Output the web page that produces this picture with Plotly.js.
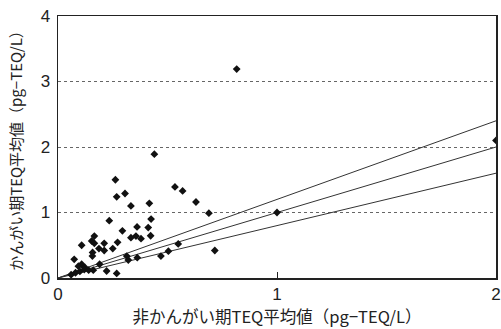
<!DOCTYPE html>
<html><head><meta charset="utf-8">
<script src="https://cdn.plot.ly/plotly-3.0.1.min.js"></script>
<style>html,body{margin:0;padding:0;background:#fff}#c{width:501px;height:329px}</style>
</head><body><div id="c"></div>
<script>
const xVals = [0.44,0.262,0.534,0.569,0.268,0.306,0.333,0.417,0.630,0.689,0.234,0.425,0.294,0.361,0.412,0.166,0.154,0.166,0.108,0.211,0.272,0.356,0.333,0.379,0.423,0.187,0.211,0.250,0.158,0.157,0.549,0.074,0.108,0.123,0.190,0.314,0.321,0.362,0.470,0.504,0.716,0.161,0.222,0.268,0.093,0.816,1.0,2.0,0.06,0.08,0.10,0.12,0.14];
const yVals = [1.89,1.50,1.39,1.33,1.24,1.29,1.10,1.14,1.16,0.99,0.875,0.90,0.72,0.78,0.77,0.64,0.565,0.53,0.50,0.53,0.545,0.64,0.615,0.60,0.645,0.45,0.42,0.45,0.39,0.335,0.52,0.285,0.21,0.16,0.21,0.335,0.275,0.31,0.335,0.41,0.42,0.12,0.107,0.07,0.18,3.19,1.0,2.1,0.05,0.08,0.10,0.13,0.12];
const slopes = [1.2, 1.0, 0.8];
const xRange = [0, 2];
const yRange = [0, 4];
const xTicks = [0, 1, 2];
const yTicks = [0, 1, 2, 3, 4];
const xTitle = '非かんがい期TEQ平均値（pg−TEQ/L）';
const yTitle = 'かんがい期TEQ平均値（pg−TEQ/L）';

const traces = slopes.map(s => ({
  x: [xRange[0], xRange[1]], y: [s*xRange[0], s*xRange[1]],
  mode: 'lines', line: {color: '#333', width: 1}, hoverinfo: 'skip', showlegend: false
}));
traces.push({x: xVals, y: yVals, mode: 'markers', type: 'scatter',
  marker: {symbol: 'diamond', size: 6, color: '#111'}, showlegend: false, cliponaxis: true});

const font = {family: '"Noto Sans CJK JP", "Noto Sans", sans-serif', size: 15, color: '#222'};
const tickFont = {family: 'Liberation Sans, Arial, sans-serif', size: 17, color: '#222'};
const layout = {
  width: 501, height: 329,
  margin: {l: 58, r: 5, t: 16, b: 51},
  paper_bgcolor: '#fff', plot_bgcolor: '#fff',
  font: font,
  xaxis: {range: xRange, tickvals: xTicks, ticktext: xTicks.map(String),
    showgrid: false, zeroline: false, showline: true, linecolor: '#222', linewidth: 1.5, mirror: true,
    ticks: 'inside', ticklen: 6, tickcolor: '#222', tickfont: tickFont,
    title: {text: xTitle, font: {family: font.family, size: 16.5, color: '#222'}, standoff: 3}},
  yaxis: {range: yRange, tickvals: yTicks, ticktext: yTicks.map(String),
    showgrid: true, gridcolor: '#666', griddash: 'dot', gridwidth: 1,
    zeroline: false, showline: true, linecolor: '#222', linewidth: 1.5, mirror: true,
    ticks: '', tickfont: tickFont, ticklabelstandoff: 3,
    title: {text: yTitle, font: {family: font.family, size: 15, color: '#222'}, standoff: 14}}
};
Plotly.newPlot('c', traces, layout, {displayModeBar: false, staticPlot: true});
</script></body></html>
